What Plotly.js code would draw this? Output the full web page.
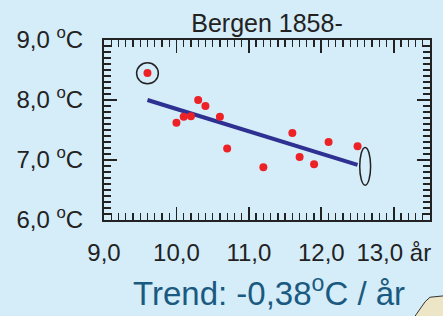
<!DOCTYPE html>
<html>
<head>
<meta charset="utf-8">
<script src="https://cdn.plot.ly/plotly-3.0.1.min.js"></script>
<style>
html,body{margin:0;padding:0;background:#d5ecf9;}
#chart{width:443px;height:316px;}
</style>
</head>
<body>
<div id="chart"></div>
<script>
// Data
const pointX = [9.6, 10.0, 10.1, 10.2, 10.3, 10.4, 10.6, 10.7, 11.2, 11.6, 11.7, 11.9, 12.1, 12.5];
const pointY = [8.45, 7.62, 7.72, 7.73, 8.00, 7.90, 7.72, 7.19, 6.88, 7.45, 7.05, 6.93, 7.30, 7.23];
const trendX = [9.6, 12.5];
const trendY = [8.0, 6.92];
const xTickVals = [9, 10, 11, 12, 13];
const xTickText = ['9,0', '10,0', '11,0', '12,0', '13,0 år'];
const yTickVals = [6, 7, 8, 9];
const yTickText = ['6,0 <sup>o</sup>C', '7,0 <sup>o</sup>C', '8,0 <sup>o</sup>C', '9,0 <sup>o</sup>C'];
const titleText = 'Bergen 1858-';
const trendText = 'Trend: -0,38<sup>o</sup>C / år';

const FONT = 'Liberation Sans, Arial, Helvetica, sans-serif';
const bg = '#d5ecf9';

const traces = [
  {x: trendX, y: trendY, type: 'scatter', mode: 'lines',
   line: {color: '#2e3192', width: 4}, hoverinfo: 'skip'},
  {x: pointX, y: pointY, type: 'scatter', mode: 'markers',
   marker: {color: '#ec2227', size: 8}, hoverinfo: 'skip'}
];

const minorTicks = {dtick: 0.1, ticks: 'inside', ticklen: 7, tickwidth: 1.3, tickcolor: '#222'};
const axisCommon = {
  showgrid: false, zeroline: false, showline: true, linecolor: '#222', linewidth: 2,
  mirror: 'ticks', ticks: 'inside', ticklen: 13, tickwidth: 1.8, tickcolor: '#222',
  tickfont: {family: FONT, size: 24, color: '#222'},
  fixedrange: true
};

const layout = {
  width: 443, height: 316,
  paper_bgcolor: bg, plot_bgcolor: bg,
  margin: {l: 104, r: 13, t: 40, b: 96},
  showlegend: false,
  title: {text: titleText, font: {family: FONT, size: 25, color: '#222'},
          x: 0.5, xref: 'paper', xanchor: 'center', y: 0.928, yref: 'container', yanchor: 'middle'},
  xaxis: Object.assign({}, axisCommon, {
    range: [9, 13.5], tickmode: 'array', tickvals: xTickVals, ticktext: xTickText,
    ticklabelstandoff: 10, minor: Object.assign({}, minorTicks)
  }),
  yaxis: Object.assign({}, axisCommon, {
    range: [6, 9], tickmode: 'array', tickvals: yTickVals, ticktext: yTickText,
    ticklabelstandoff: 14, minor: Object.assign({}, minorTicks)
  }),
  shapes: [
    {type: 'circle', xref: 'x', yref: 'y', x0: 9.45, x1: 9.75, y0: 8.27, y1: 8.62,
     line: {color: '#222', width: 1.5}},
    {type: 'circle', xref: 'x', yref: 'y', x0: 12.53, x1: 12.68, y0: 6.58, y1: 7.21,
     line: {color: '#222', width: 1.5}},
    {type: 'path', xref: 'paper', yref: 'paper',
     path: 'M 0.944 -0.56 L 0.985 -0.454 L 1.0 -0.429 L 1.05 -0.42 L 1.05 -0.56 Z',
     fillcolor: '#ece6c6', line: {color: '#333', width: 1}}
  ],
  annotations: [
    {text: trendText, xref: 'paper', yref: 'paper', x: 0.506, y: -0.395,
     xanchor: 'center', yanchor: 'middle', showarrow: false,
     font: {family: FONT, size: 33, color: '#1a5a80'}}
  ]
};

Plotly.newPlot('chart', traces, layout, {staticPlot: true, displayModeBar: false});
</script>
</body>
</html>
